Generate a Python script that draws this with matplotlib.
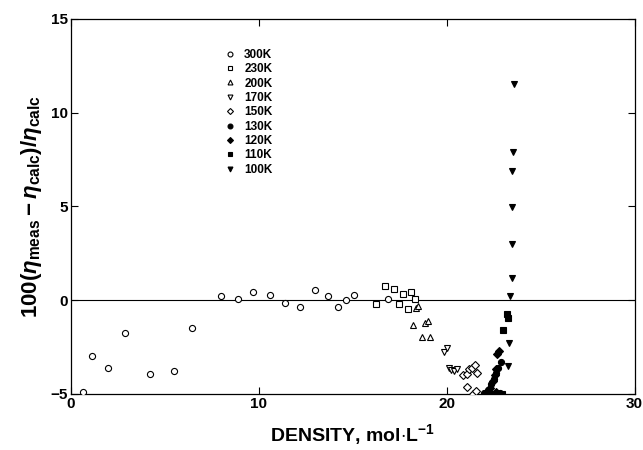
import matplotlib
matplotlib.use("Agg")
import matplotlib.pyplot as plt
from matplotlib.lines import Line2D

plt.rcParams['font.family'] = ['Liberation Sans', 'DejaVu Sans']
plt.rcParams['font.weight'] = 'bold'
plt.rcParams['mathtext.fontset'] = 'custom'
plt.rcParams['mathtext.rm'] = 'Liberation Sans:bold'
plt.rcParams['mathtext.it'] = 'Liberation Sans:italic:bold'
plt.rcParams['mathtext.bf'] = 'Liberation Sans:bold'

# ---- data (density mol/L, deviation %) ----
x_300 = [0.67, 1.15, 1.98, 2.89, 4.23, 5.48, 6.45, 7.98, 8.91, 9.68, 10.6, 11.38, 12.2,
         13.0, 13.69, 14.23, 14.64, 15.07, 16.9]
y_300 = [-4.93, -2.97, -3.65, -1.78, -3.94, -3.81, -1.51, 0.21, 0.04, 0.41, 0.25, -0.18,
         -0.37, 0.55, 0.23, -0.36, 0.02, 0.25, 0.04]

x_230 = [16.26, 16.7, 17.18, 17.46, 17.66, 17.93, 18.12, 18.3]
y_230 = [-0.2, 0.73, 0.6, -0.2, 0.3, -0.48, 0.41, 0.04]

x_200 = [18.35, 18.49, 18.19, 18.83, 19.02, 18.69, 19.13]
y_200 = [-0.41, -0.3, -1.35, -1.21, -1.12, -1.98, -1.98]

x_170 = [19.87, 20.0, 20.1, 20.25, 20.4, 20.55]
y_170 = [-2.79, -2.56, -3.65, -3.75, -3.8, -3.7]

x_150 = [20.88, 21.06, 21.2, 21.35, 21.49, 21.63, 21.08, 21.4, 21.54]
y_150 = [-4.0, -3.92, -3.7, -3.6, -3.49, -3.88, -4.63, -5.0, -4.84]

x_130 = [22.0, 22.2, 22.35, 22.5, 22.6, 22.75, 22.9, 22.85]
y_130 = [-4.95, -4.8, -4.5, -4.2, -3.9, -3.6, -3.3, -4.95]

x_120 = [22.1, 22.3, 22.45, 22.55, 22.65, 22.7, 22.8, 22.6]
y_120 = [-5.0, -4.7, -4.3, -4.0, -3.7, -2.9, -2.7, -4.9]

x_110 = [22.4, 22.7, 22.95, 23.0, 23.2, 23.25]
y_110 = [-5.0, -5.0, -5.0, -1.6, -0.75, -0.95]

x_100 = [23.6, 23.55, 23.5, 23.5, 23.5, 23.45, 23.38, 23.3, 23.25]
y_100 = [11.5, 7.9, 6.9, 4.95, 2.97, 1.2, 0.2, -2.3, -3.5]

labels = ['300K', '230K', '200K', '170K', '150K', '130K', '120K', '110K', '100K']
x_ticks = [0, 10, 20, 30]
y_ticks = [-5, 0, 5, 10, 15]

series = [
    (x_300, y_300, 'o', 'white'),
    (x_230, y_230, 's', 'white'),
    (x_200, y_200, '^', 'white'),
    (x_170, y_170, 'v', 'white'),
    (x_150, y_150, 'D', 'white'),
    (x_130, y_130, 'o', 'black'),
    (x_120, y_120, 'D', 'black'),
    (x_110, y_110, 's', 'black'),
    (x_100, y_100, 'v', 'black'),
]

fig = plt.figure(figsize=(6.43, 4.5), dpi=100)
ax = fig.add_axes([0.110, 0.125, 0.877, 0.833])

ax.axhline(0, color='black', lw=0.8, zorder=1)

handles = []
for (xs, ys, m, fc), lab in zip(series, labels):
    ms = 4.4 if m != 'D' else 3.8
    ax.plot(xs, ys, linestyle='none', marker=m, markersize=ms,
            markerfacecolor=fc, markeredgecolor='black', markeredgewidth=0.8, zorder=3)
    handles.append(Line2D([], [], linestyle='none', marker=m, markersize=ms * 0.8,
                          markerfacecolor=fc, markeredgecolor='black',
                          markeredgewidth=0.8, label=lab))

ax.set_xlim(0, 30)
ax.set_ylim(-5, 15)
ax.set_xticks(x_ticks)
ax.set_yticks(y_ticks)
ax.tick_params(direction='in', length=5, width=0.8, labelsize=11,
               top=True, right=True, pad=2)
for s in ax.spines.values():
    s.set_linewidth(0.9)

ax.set_xlabel(r'DENSITY, mol$\cdot$L$^{-1}$', fontsize=14, fontweight='bold', labelpad=8)
ax.set_ylabel(r'100($\eta_{\rm meas}-\eta_{\rm calc}$)/$\eta_{\rm calc}$',
              fontsize=16, fontweight='bold', labelpad=5)

leg = ax.legend(handles=handles, loc='upper left', bbox_to_anchor=(0.272, 0.92),
                frameon=False, fontsize=8.5, labelspacing=0.2, handlelength=1.0,
                handletextpad=0.7, borderaxespad=0, borderpad=0)

fig.savefig('out.png', dpi=100)
